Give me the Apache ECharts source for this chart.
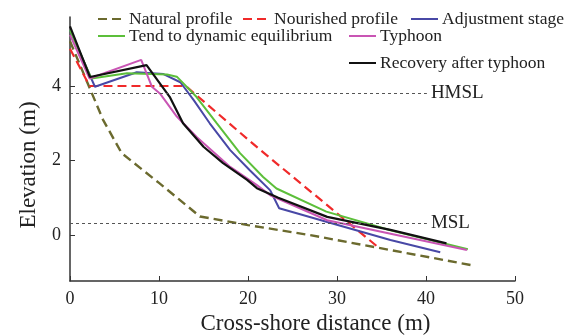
<!DOCTYPE html>
<html>
<head>
<meta charset="utf-8">
<script src="https://cdn.jsdelivr.net/npm/echarts@6/dist/echarts.min.js"></script>
<style>
html, body { margin: 0; padding: 0; background: #fff; }
#chart { width: 578px; height: 336px; }
</style>
</head>
<body>
<div id="chart"></div>
<script>
// profiles, [distance (m), elevation (m)]
var natural = [[0, 5.2], [3.7, 3.1], [5.8, 2.2], [10, 1.4], [14.6, 0.5], [20, 0.27], [27, 0.0], [36, -0.4], [45, -0.8]];
var nourished = [[0, 5.0], [2.2, 4.0], [13, 4.0], [21.3, 2.3], [34.5, -0.3]];
var adjustment = [[0, 5.5], [2.8, 3.98], [7.5, 4.37], [10.5, 4.32], [12.4, 4.1], [13.9, 3.62], [15.7, 3.0], [18, 2.28], [20.2, 1.74], [22.5, 1.2], [23.5, 0.72], [28.9, 0.35], [36, -0.13], [41.6, -0.46]];
var dynamic = [[0, 5.5], [2.4, 4.2], [6.4, 4.34], [10.9, 4.31], [12, 4.25], [14.2, 3.71], [16.5, 3.0], [19.1, 2.2], [21.7, 1.56], [23.2, 1.25], [28.8, 0.63], [36, 0.13], [44.7, -0.38]];
var typhoon = [[0, 5.37], [2.2, 4.2], [8.0, 4.7], [9.2, 3.98], [10.1, 3.8], [12, 3.18], [14.2, 2.64], [18, 1.83], [21, 1.34], [22.5, 1.07], [28.9, 0.4], [44.6, -0.4]];
var recovery = [[0, 5.6], [2.25, 4.24], [8.6, 4.56], [11.2, 3.71], [12.7, 3.0], [15, 2.37], [17.2, 1.93], [19.9, 1.48], [21, 1.26], [23.4, 1.0], [28.9, 0.49], [36, 0.14], [42.3, -0.22]];

var names = ['Natural profile', 'Nourished profile', 'Adjustment stage', 'Tend to dynamic equilibrium', 'Typhoon', 'Recovery after typhoon'];
var colors = ['#6b6a2e', '#f02a2a', '#4848a6', '#5cbf3a', '#c955b4', '#111111'];
var xTicks = [0, 10, 20, 30, 40, 50];
var yTicks = [0, 2, 4];
var hmsl = 3.81, msl = 0.32, levelEnd = 40.1;

var serif = 'Liberation Serif';
var chart = echarts.init(document.getElementById('chart'));

function line(i, data, dashed, width) {
	return {
		name: names[i],
		type: 'line',
		data: data,
		symbol: 'none',
		z: 3,
		lineStyle: { color: colors[i], width: width, type: dashed ? [9, 5] : 'solid' },
		itemStyle: { color: colors[i] }
	};
}

function legendAt(name, left, top) {
	return {
		data: [name],
		left: left,
		top: top,
		itemWidth: 27,
		itemHeight: 10,
		itemGap: 4,
		padding: 0,
		itemStyle: { opacity: 0 },
		textStyle: { fontFamily: serif, fontSize: 17.5, color: '#222', padding: [0, 0, 0, -1] }
	};
}

var levelLine = function (val, text) {
	return [{ coord: [0, val] }, { coord: [levelEnd, val], label: { formatter: text } }];
};

var series = [
	line(0, natural, true, 2.4),
	line(1, nourished, true, 2.2),
	line(2, adjustment, false, 2),
	line(3, dynamic, false, 2),
	line(4, typhoon, false, 2),
	line(5, recovery, false, 2.2)
];
series[0].markLine = {
	silent: true,
	symbol: 'none',
	lineStyle: { color: '#555', width: 1, type: [3, 3] },
	label: { show: true, position: 'end', distance: 4, fontFamily: serif, fontSize: 19, color: '#222' },
	data: [levelLine(hmsl, 'HMSL'), levelLine(msl, 'MSL')]
};

var option = {
	animation: false,
	color: colors,
	grid: { left: 70, right: 63, top: 17, bottom: 55, containLabel: false, outerBoundsMode: 'none' },
	legend: [
		legendAt(names[0], 97, 10),
		legendAt(names[1], 242, 10),
		legendAt(names[2], 410, 10),
		legendAt(names[3], 97, 27),
		legendAt(names[4], 348, 27),
		legendAt(names[5], 348, 54)
	],
	xAxis: {
		type: 'value',
		min: 0,
		max: 50,
		interval: 10,
		name: 'Cross-shore distance (m)',
		nameLocation: 'middle',
		nameGap: 28,
		nameTextStyle: { fontFamily: serif, fontSize: 23, color: '#222', padding: [0, 0, 0, 46] },
		splitLine: { show: false },
		axisLine: { onZero: false, lineStyle: { color: '#333', width: 1.5 } },
		axisTick: { inside: true, length: 5, lineStyle: { color: '#333' } },
		axisLabel: { fontFamily: serif, fontSize: 18, color: '#222', margin: 9, customValues: xTicks }
	},
	yAxis: {
		type: 'value',
		min: -1.23,
		max: 5.85,
		name: 'Elevation (m)',
		nameLocation: 'middle',
		nameGap: 30,
		nameTextStyle: { fontFamily: serif, fontSize: 23, color: '#222', padding: [0, 32, 0, 0] },
		splitLine: { show: false },
		axisLine: { show: true, onZero: false, lineStyle: { color: '#333', width: 1.5 } },
		axisTick: { show: true, inside: true, length: 5, lineStyle: { color: '#333' }, customValues: yTicks },
		axisLabel: { fontFamily: serif, fontSize: 18, color: '#222', margin: 9, customValues: yTicks }
	},
	series: series
};
chart.setOption(option);
</script>
</body>
</html>
